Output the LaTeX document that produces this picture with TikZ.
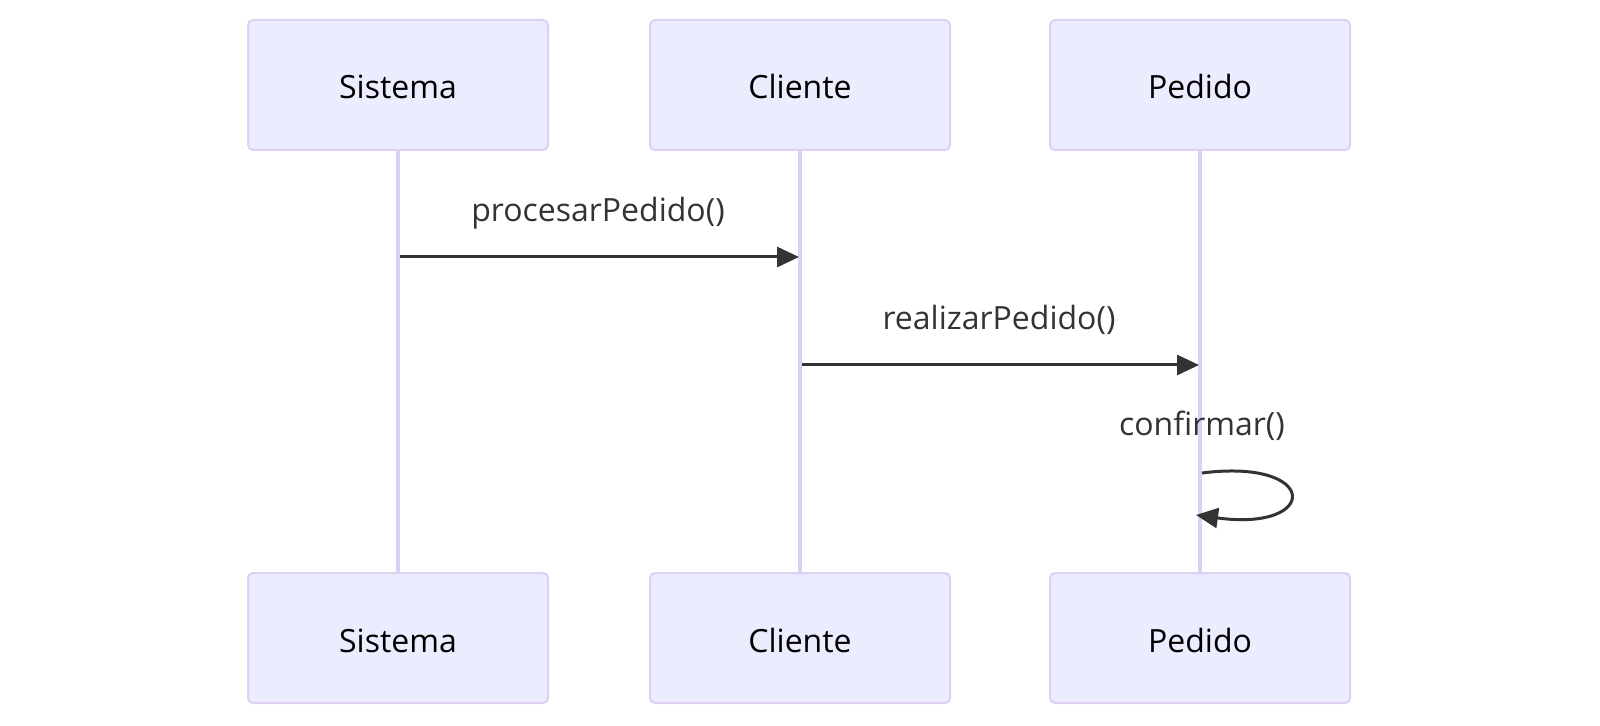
\documentclass[tikz,border=0pt]{standalone}
\usepackage{fontspec}
\setmainfont{Open Sans}
\usetikzlibrary{arrows.meta, positioning, calc}
\definecolor{actorfill}{HTML}{ECECFF}
\definecolor{actorline}{HTML}{DCD0F4}
\definecolor{msgcol}{HTML}{333333}
\tikzset{
  actor/.style={draw=actorline, line width=1pt, fill=actorfill, rounded corners=2.5pt,
    minimum width=150pt, minimum height=65pt, text height=14pt, text depth=0pt,
    font=\fontsize{16}{19}\selectfont},
  lifeline/.style={draw=actorline, line width=2pt},
  msg/.style={draw=msgcol, line width=1.5pt, ->},
  msglabel/.style={text=msgcol, font=\fontsize{16}{19}\selectfont}
}
\begin{document}
\begin{tikzpicture}[x=0.5pt, y=-0.5pt, >={Triangle[length=11pt,width=10pt]}]
      \useasboundingbox (0,0) rectangle (1600,726);

      \node[actor] (sis) at (398, 85) {Sistema};
      \node[actor] (cli) at (800, 85) {Cliente};
      \node[actor] (ped) at (1200, 85) {Pedido};
      \node[actor] (sisb) at (398, 638) {Sistema};
      \node[actor] (clib) at (800, 638) {Cliente};
      \node[actor] (pedb) at (1200, 638) {Pedido};

      \draw[lifeline] (sis.south) -- (sisb.north);
      \draw[lifeline] (cli.south) -- (clib.north);
      \draw[lifeline] (ped.south) -- (pedb.north);

      \coordinate (a1) at (400, 257);
      \coordinate (b1) at (799, 257);
      \coordinate (a2) at (802, 365);
      \coordinate (b2) at (1199, 365);
      \coordinate (a3) at (1202, 473);
      \coordinate (b3) at (1196, 515);

      \draw[msg] (a1) -- (b1);
      \node[msglabel] (m1) at (598, 213) {procesarPedido()};
      \draw[msg] (a2) -- (b2);
      \node[msglabel] (m2) at (999, 320) {realizarPedido()};
      \draw[msg] (a3) .. controls (1320, 458) and (1320, 532) .. (b3);
      \node[msglabel] (m3) at (1202, 426) {confirmar()};

    \end{tikzpicture}
\end{document}
